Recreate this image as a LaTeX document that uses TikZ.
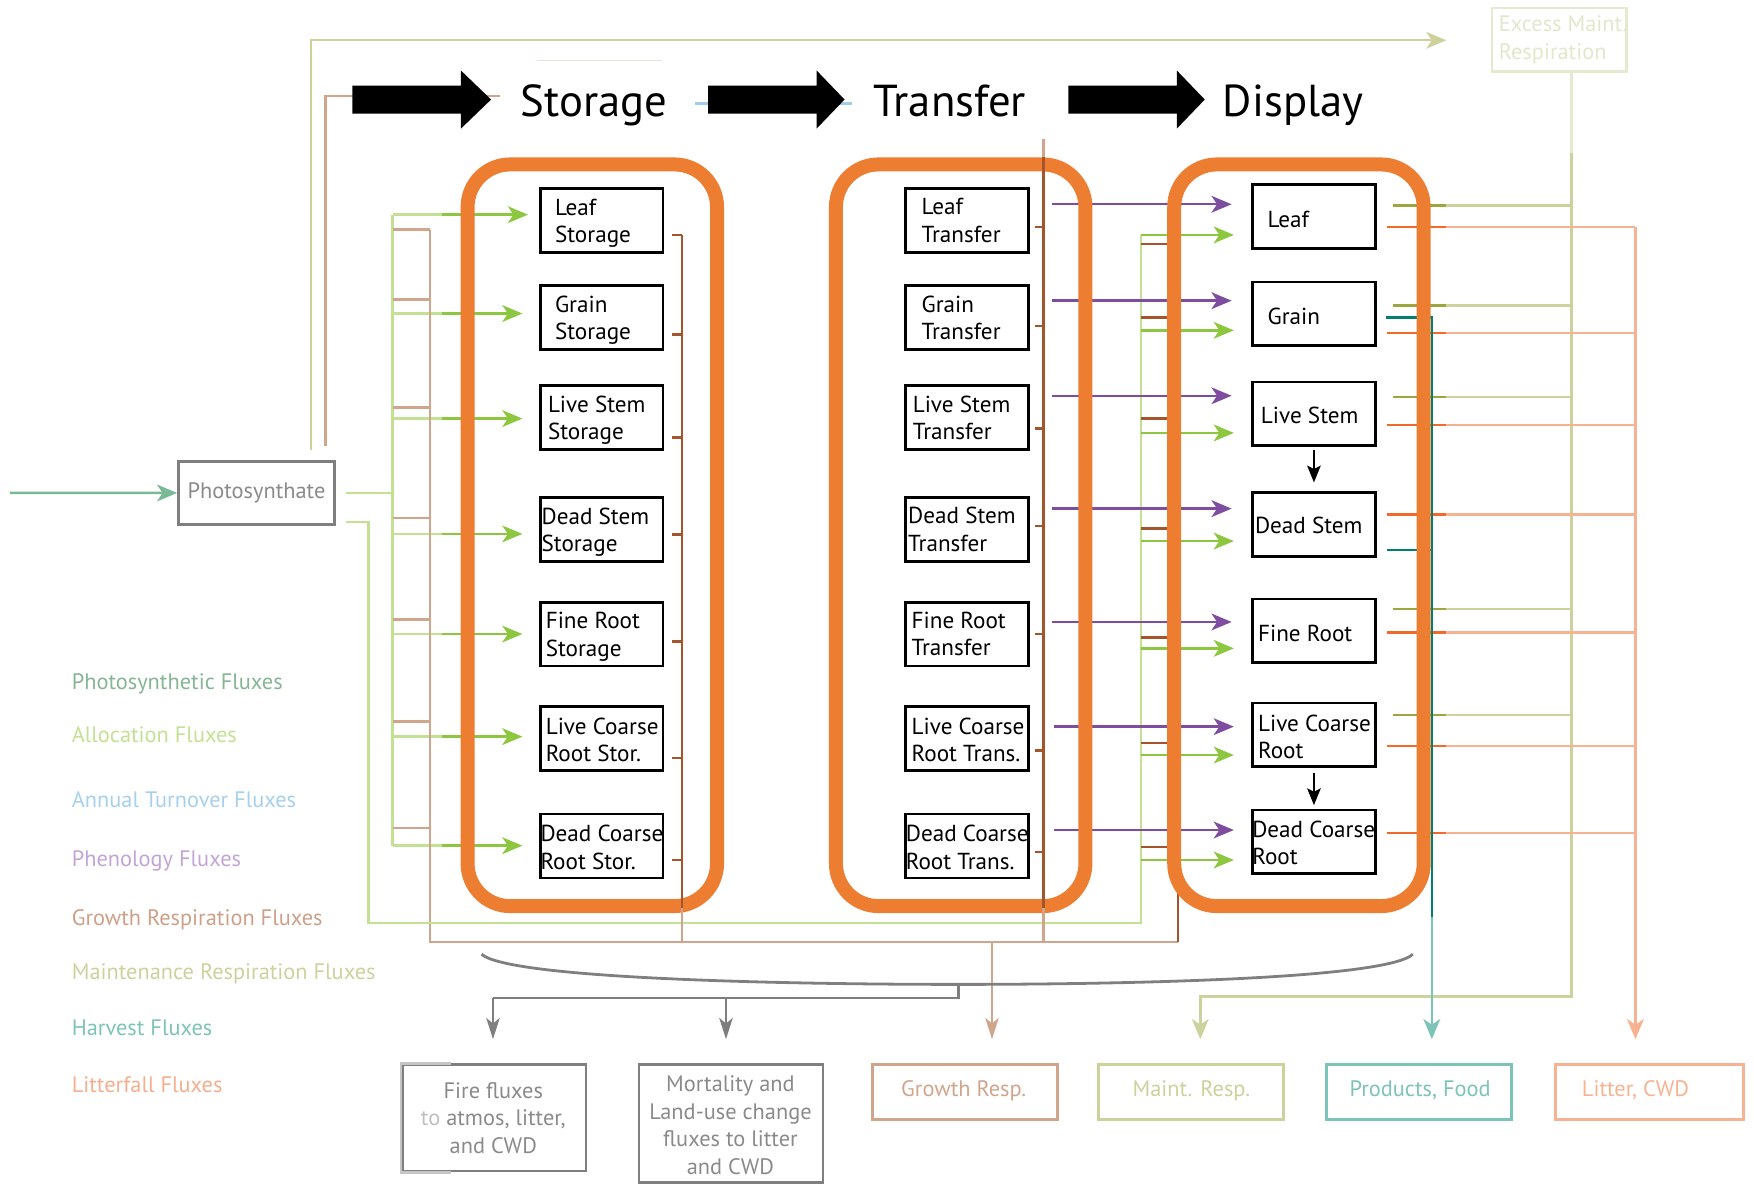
\documentclass[tikz,border=0pt]{standalone}
\usepackage{fontspec}
\setmainfont{PT Sans}
\usetikzlibrary{arrows.meta}

\definecolor{stage}{HTML}{ED7D31}
\definecolor{photo}{HTML}{7AB896}
\definecolor{photoTxt}{HTML}{86B594}
\definecolor{allocL}{HTML}{C3E193}
\definecolor{allocB}{HTML}{8DC63F}
\definecolor{turn}{HTML}{56A5DC}
\definecolor{turnL}{HTML}{9FCDEC}
\definecolor{turnTxt}{HTML}{A6D0EE}
\definecolor{phen}{HTML}{7F4DA0}
\definecolor{phenTxt}{HTML}{C3A5D5}
\definecolor{growL}{HTML}{D1A58C}
\definecolor{growD}{HTML}{A5552D}
\definecolor{growTxt}{HTML}{CDA089}
\definecolor{maintL}{HTML}{CDD19C}
\definecolor{maintD}{HTML}{9FA640}
\definecolor{maintF}{HTML}{E4E9D0}
\definecolor{harvD}{HTML}{00806F}
\definecolor{harvL}{HTML}{7CC3B8}
\definecolor{litD}{HTML}{F26A2B}
\definecolor{litL}{HTML}{F7B391}
\definecolor{litTxt}{HTML}{F5AE8E}
\definecolor{grayline}{HTML}{7F7F7F}
\definecolor{grayTxt}{HTML}{8A8A8A}

\begin{document}
\begin{tikzpicture}[x=1pt,y=-1pt,
  fl/.style={line width=2.2pt},
  tip/.style={-{Stealth[length=18pt,width=15pt,inset=5pt]}},
  tipS/.style={-{Stealth[length=19pt,width=12pt,inset=5pt]}},
  pool/.style={draw=black, fill=white, line width=2.4pt, minimum width=109.5pt, minimum height=57pt, inner sep=0pt},
  pooltxt/.style={anchor=west, align=left, inner sep=0pt, font=\fontsize{20.7pt}{24.5pt}\selectfont},
  stagebox/.style={draw=stage, line width=12.5pt, rounded corners=38pt, minimum width=223pt, minimum height=663pt, inner sep=0pt},
  head/.style={anchor=base, inner sep=0pt, font=\fontsize{40pt}{44pt}\selectfont},
  legend/.style={anchor=base west, inner sep=0pt, font=\fontsize{20pt}{24pt}\selectfont},
  sink/.style={draw, line width=2.4pt, minimum height=49pt, inner sep=0pt},
  sinktxt/.style={inner sep=0pt, align=center, font=\fontsize{20pt}{24.7pt}\selectfont}]
\useasboundingbox (0,0) rectangle (1568,1059);

% ---------- heading strip ----------
\draw[line width=1.5pt, color=growL!35] (480,54) -- (592,54);
\draw[fl, growL] (291,399) -- (291,86) -- (447,86);
\draw[fl, turnL] (621,92.6) -- (762,92.6);
\fill (315,76.5) -- (412,76.5) -- (412,63) -- (439,89) -- (412,115) -- (412,101.5) -- (315,101.5) -- cycle;
\fill (633,76.5) -- (730,76.5) -- (730,63) -- (755,89) -- (730,115) -- (730,101.5) -- (633,101.5) -- cycle;
\fill (955,76.5) -- (1052,76.5) -- (1052,63) -- (1077,89) -- (1052,115) -- (1052,101.5) -- (955,101.5) -- cycle;
\node[head] (hStorage) at (531,104) {Storage};
\node[head] (hTransfer) at (849,104) {Transfer};
\node[head] (hDisplay) at (1156,104) {Display};

% ---------- photosynthate ----------
\node[draw=grayline, line width=2.4pt, minimum width=139.5pt, minimum height=56.5pt, inner sep=0pt,
      text=grayTxt, font=\fontsize{20pt}{24pt}\selectfont] (photo) at (229.3,440.7) {Photosynthate};
\coordinate (src) at (8.8,440.6);
\draw[fl, photo, tip] (src) -- (photo.west);

% excess maintenance respiration
\node[draw=maintF, line width=2.2pt, minimum width=120pt, minimum height=57pt, inner sep=0pt] (excess) at (1394,35.5) {};
\node[anchor=west, align=left, inner sep=0pt, text=maintF!90!maintL, font=\fontsize{20pt}{24.6pt}\selectfont] (excessTxt) at (1339.7,35.6) {Excess Maint.\\Respiration};
\draw[fl, maintL, tip] (278,402) -- (278,36) -- (1293,36);

% ---------- allocation fluxes into storage ----------
\draw[fl, allocL] (309,440.6) -- (351,440.6);
\draw[fl, allocL] (351,191.9) -- (351,756);
\foreach \y/\t in {191.9/472, 280.3/467, 374.2/467, 477.3/467, 566.8/467, 658.5/467, 756/467} {
  \draw[fl, allocL] (351,\y) -- (395,\y);
  \draw[fl, allocB, tip] (395,\y) -- (\t,\y);
}
% growth respiration of allocation to storage
\foreach \y in {205.3, 267.6, 364.3, 463, 554, 645, 740}
  \draw[fl, growL] (351,\y) -- (384.3,\y);
\draw[fl, growL] (384.3,205.3) -- (384.3,842) -- (1053,842);

% allocation to display
\draw[fl, allocL] (309,466.8) -- (329.6,466.8) -- (329.6,825) -- (1020,825) -- (1020,210);
\foreach \y in {210, 295.3, 387, 483.7, 579.6, 675, 768.8}
  \draw[fl, allocB, tip] (1020,\y) -- (1103,\y);
\draw[fl, growD] (1053,218) -- (1053,842);
\foreach \y in {218, 284, 374, 472.5, 570, 664, 757}
  \draw[fl, growD] (1020,\y) -- (1053,\y);

% annual turnover (storage -> transfer)
\foreach \y/\s/\t in {197.3/621/782.6, 287.7/621/782.6, 372.6/621/782.6, 473/621/782.6, 570.3/621/782.6, 664/623/785, 756.3/623/785}
  \draw[fl, turn, tip] (\s,\y) -- (\t,\y);

% phenology (transfer -> display)
\foreach \y/\s/\t in {182.6/940/1101, 268.8/940/1101, 353.8/940/1101, 454.7/940/1101, 556/940/1101, 649.6/942/1103, 742/942/1103}
  \draw[fl, phen, tip] (\s,\y) -- (\t,\y);

% maintenance respiration from display pools
\foreach \y in {183.6, 273, 355, 544.5, 639} {
  \draw[fl, maintL] (1245,\y) -- (1405,\y);
  \draw[fl, maintD] (1245,\y) -- (1293,\y);
}
\draw[fl, maintF] (excess.south -| 1405,0) -- (1405,137);
\coordinate (mjoin) at (1405,891);
\draw[fl, maintL, tip] (1405,137) -- (mjoin) -- (1073,891) -- (1073,929);

% litterfall
\foreach \y in {202.7, 297.6, 380, 459.8, 565.3, 667, 744.7} {
  \draw[fl, litL] (1240,\y) -- (1462,\y);
  \draw[fl, litD] (1240,\y) -- (1293,\y);
}
\draw[fl, litL, tip] (1462,202.7) -- (1462,929);

% harvest
\draw[fl, harvD] (1239,284) -- (1280,284) -- (1280,820);
\draw[fl, harvD] (1240,491.7) -- (1280,491.7);
\draw[fl, harvL, tip] (1280,820) -- (1280,929);

% ---------- stage frames ----------
\node[stagebox] (frStorage) at (529.5,478.5) {};
\node[stagebox] (frTransfer) at (858.8,478.5) {};
\node[stagebox] (frDisplay) at (1161.2,478.5) {};

% growth respiration of storage and transfer pools
\draw[fl, growL] (609.8,210) -- (609.8,842);
\draw[fl, growD] (609.8,210) -- (609.8,812);
\foreach \y in {210, 299, 391, 478, 573.6, 677.8, 768.8}
  \draw[fl, growD] (601,\y) -- (609.8,\y);
\draw[fl, growL] (933,124.6) -- (933,842);
\draw[fl, growD] (933,140) -- (933,812);
\foreach \y in {203, 291.5, 383, 470, 566.8, 671, 761.7}
  \draw[fl, growD] (925,\y) -- (933,\y);
\draw[fl, growL, tipS] (886.8,842) -- (886.8,929);

% ---------- pools ----------
\foreach \n/\y in {leaf/197.2, grain/284, lstem/373.4, dstem/473.2, froot/566.9, lcroot/660.3, dcroot/756.3} {
  \node[pool] (s-\n) at (537.9,\y) {};
  \node[pool] (t-\n) at (864.5,\y) {};
}
\foreach \n/\y in {leaf/193.7, grain/280.5, lstem/369.9, dstem/469, froot/564, lcroot/657, dcroot/752.5}
  \node[pool] (d-\n) at (1174.6,\y) {};

\node[pooltxt] (s-leaf-t) at (496,199.7) {Leaf\\Storage};
\node[pooltxt] (s-grain-t) at (496,286.5) {Grain\\Storage};
\node[pooltxt] (s-lstem-t) at (489.7,375.9) {Live Stem\\Storage};
\node[pooltxt] (s-dstem-t) at (484,475.7) {Dead Stem\\Storage};
\node[pooltxt] (s-froot-t) at (487.7,569.4) {Fine Root\\Storage};
\node[pooltxt] (s-lcroot-t) at (487.7,661.5) {Live Coarse\\Root Stor.};
\node[pooltxt] (s-dcroot-t) at (483,757.5) {Dead Coarse\\Root Stor.};

\node[pooltxt] (t-leaf-t) at (823.7,197.2) {Leaf\\Transfer};
\node[pooltxt] (t-grain-t) at (823.7,284) {Grain\\Transfer};
\node[pooltxt] (t-lstem-t) at (815.8,373.4) {Live Stem\\Transfer};
\node[pooltxt] (t-dstem-t) at (811.7,473.2) {Dead Stem\\Transfer};
\node[pooltxt] (t-froot-t) at (814.8,566.9) {Fine Root\\Transfer};
\node[pooltxt] (t-lcroot-t) at (814.8,661.5) {Live Coarse\\Root Trans.};
\node[pooltxt] (t-dcroot-t) at (809.6,757.5) {Dead Coarse\\Root Trans.};

\node[pooltxt] (d-leaf-t) at (1133,196.4) {Leaf};
\node[pooltxt] (d-grain-t) at (1133,283) {Grain};
\node[pooltxt] (d-lstem-t) at (1127,371) {Live Stem};
\node[pooltxt] (d-dstem-t) at (1121.7,470) {Dead Stem};
\node[pooltxt] (d-froot-t) at (1124.5,566) {Fine Root};
\node[pooltxt] (d-lcroot-t) at (1124.5,659) {Live Coarse\\Root};
\node[pooltxt] (d-dcroot-t) at (1119.3,753.5) {Dead Coarse\\Root};

% live -> dead turnover inside display
\draw[line width=2.2pt, -{Stealth[length=15pt,width=12pt,inset=3pt]}, shorten <=2.6pt, shorten >=8pt] (d-lstem.south) -- (d-dstem.north);
\draw[line width=2.2pt, -{Stealth[length=15pt,width=12pt,inset=3pt]}, shorten <=4pt, shorten >=3pt] (d-lcroot.south) -- (d-dcroot.north);

% ---------- disturbance brace ----------
\draw[line width=2.5pt, grayline] (430.5,853) .. controls (455,875) and (700,880) .. (857,880)
      .. controls (1010,880) and (1240,875) .. (1263,853);
\coordinate (bjoin) at (857,892);
\draw[fl, grayline] (857,880) -- (bjoin) -- (440.7,892);
\draw[fl, grayline, tipS] (440.7,892) -- (440.7,929);
\draw[fl, grayline, tipS] (649,892) -- (649,929);

% ---------- sinks ----------
\node[sink, draw=grayline, minimum width=164pt, minimum height=95pt] (fire) at (441.75,999.25) {};
\draw[line width=2.4pt, color=grayline!45] (fire.north west) ++(45,0) -- (fire.north west) -- (fire.south west) -- ++(45,0);
\node[sinktxt, text=grayTxt] (fireTxt) at (441,999.5) {Fire fluxes\\\textcolor{grayTxt!55}{to} atmos, litter,\\and CWD};
\node[sink, draw=grayline, minimum width=164.5pt, minimum height=105.5pt] (mort) at (653.5,1004.5) {};
\node[sinktxt, text=grayTxt] (mortTxt) at (653,1006) {Mortality and\\Land-use change\\fluxes to litter\\and CWD};
\node[sink, draw=growL, minimum width=165.5pt] (gresp) at (862.7,976.25) {};
\node[sinktxt, text=growL] (grespTxt) at (861.5,975) {Growth Resp.};
\node[sink, draw=maintL, minimum width=165.5pt] (mresp) at (1064.75,976.25) {};
\node[sinktxt, text=maintL] (mrespTxt) at (1065,975) {Maint. Resp.};
\node[sink, draw=harvL, minimum width=165pt] (prod) at (1268.5,976.25) {};
\node[sinktxt, text=harvL] (prodTxt) at (1269.5,975) {Products, Food};
\node[sink, draw=litL, minimum width=168.5pt] (litter) at (1474.5,976.25) {};
\node[sinktxt, text=litL] (litterTxt) at (1462,975) {Litter, CWD};

% ---------- legend ----------
\node[legend, text=photoTxt] (lg1) at (64,616.2) {Photosynthetic Fluxes};
\node[legend, text=allocL] (lg2) at (64,663.9) {Allocation Fluxes};
\node[legend, text=turnTxt] (lg3) at (64,722) {Annual Turnover Fluxes};
\node[legend, text=phenTxt] (lg4) at (64,774.8) {Phenology Fluxes};
\node[legend, text=growTxt] (lg5) at (64,827.5) {Growth Respiration Fluxes};
\node[legend, text=maintL] (lg6) at (64,876) {Maintenance Respiration Fluxes};
\node[legend, text=harvL] (lg7) at (64,925.9) {Harvest Fluxes};
\node[legend, text=litTxt] (lg8) at (64,976.3) {Litterfall Fluxes};
\end{tikzpicture}
\end{document}
